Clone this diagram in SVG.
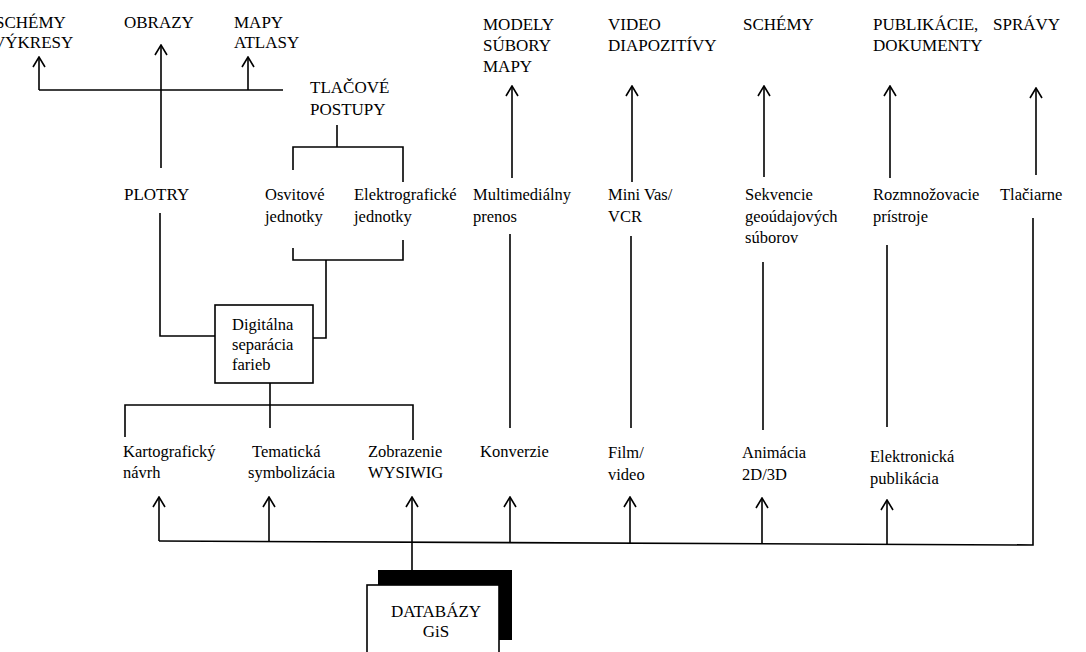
<svg xmlns="http://www.w3.org/2000/svg" width="1086" height="652" viewBox="0 0 1086 652">
<defs>
<style>
text{font-family:"Liberation Serif","Times New Roman",serif;fill:#000;}
.u{font-size:17px;}
.l{font-size:16.5px;}
.c{text-anchor:middle;}
.ln{stroke:#000;stroke-width:1.6;fill:none;}
.ar{stroke:#000;stroke-width:1.6;fill:none;marker-end:url(#ah);}
</style>
<marker id="ah" viewBox="0 0 12 14" refX="11" refY="7" markerWidth="12" markerHeight="14" markerUnits="userSpaceOnUse" orient="auto">
<path d="M1,1 L11,7 L1,13" fill="none" stroke="#000" stroke-width="1.6"/>
</marker>
</defs>
<rect width="1086" height="652" fill="#fff"/>

<g id="connectors">
<polyline class="ln" points="39,90 283,90"/>
<line class="ar" x1="39" y1="90" x2="39" y2="57"/>
<line class="ar" x1="161" y1="168" x2="161" y2="45"/>
<line class="ar" x1="248" y1="90" x2="248" y2="57"/>
<line class="ln" x1="337" y1="125" x2="337" y2="147"/>
<polyline class="ln" points="293,170 293,147 403,147 403,182"/>
<polyline class="ln" points="293,248 293,260 403,260 403,240"/>
<polyline class="ln" points="326,260 326,338 313,338"/>
<polyline class="ln" points="160,213 160,336 215,336"/>
<line class="ln" x1="270" y1="383" x2="270" y2="428"/>
<polyline class="ln" points="125,437 125,405 413,405 413,440"/>
<line class="ar" x1="512" y1="178" x2="512" y2="86"/>
<line class="ar" x1="632" y1="182" x2="632" y2="86"/>
<line class="ar" x1="764" y1="177" x2="764" y2="86"/>
<line class="ar" x1="890" y1="178" x2="890" y2="86"/>
<line class="ar" x1="1036" y1="175" x2="1036" y2="88"/>
<line class="ln" x1="510" y1="234" x2="510" y2="428"/>
<line class="ln" x1="631" y1="236" x2="631" y2="428"/>
<line class="ln" x1="763" y1="262" x2="763" y2="430"/>
<line class="ln" x1="887" y1="245" x2="887" y2="427"/>
<polyline class="ln" points="159,541 1033,545 1033,218"/>
<line class="ar" x1="159" y1="541" x2="159" y2="497"/>
<line class="ar" x1="269" y1="541" x2="269" y2="497"/>
<line class="ar" x1="412" y1="570" x2="412" y2="497"/>
<line class="ar" x1="510" y1="542" x2="510" y2="497"/>
<line class="ar" x1="630" y1="543" x2="630" y2="497"/>
<line class="ar" x1="762" y1="544" x2="762" y2="498"/>
<line class="ar" x1="887" y1="545" x2="887" y2="500"/>
</g>

<g id="n-schemy1"><text class="u" x="-5" y="28">SCHÉMY</text><text class="u" x="-7" y="48">VÝKRESY</text></g>
<g id="n-obrazy"><text class="u" x="124" y="28">OBRAZY</text></g>
<g id="n-mapy"><text class="u" x="234" y="28">MAPY</text><text class="u" x="234" y="48">ATLASY</text></g>
<g id="n-modely"><text class="u" x="483" y="30">MODELY</text><text class="u" x="483" y="51">SÚBORY</text><text class="u" x="483" y="72">MAPY</text></g>
<g id="n-video"><text class="u" x="608" y="30">VIDEO</text><text class="u" x="608" y="51">DIAPOZITÍVY</text></g>
<g id="n-schemy2"><text class="u" x="743" y="30">SCHÉMY</text></g>
<g id="n-publikacie"><text class="u" x="873" y="30">PUBLIKÁCIE,</text><text class="u" x="873" y="51">DOKUMENTY</text></g>
<g id="n-spravy"><text class="u" x="993" y="30">SPRÁVY</text></g>

<g id="n-tlacove"><text class="u" x="310" y="93">TLAČOVÉ</text><text class="u" x="310" y="115">POSTUPY</text></g>
<g id="n-plotry"><text class="u" x="124" y="200">PLOTRY</text></g>
<g id="n-osvitove"><text class="l" x="265" y="200">Osvitové</text><text class="l" x="265" y="222">jednotky</text></g>
<g id="n-elektro"><text class="l" x="354" y="200">Elektrografické</text><text class="l" x="354" y="222">jednotky</text></g>
<g id="n-multi"><text class="l" x="473" y="200">Multimediálny</text><text class="l" x="473" y="222">prenos</text></g>
<g id="n-minivas"><text class="l" x="608" y="200">Mini Vas/</text><text class="l" x="608" y="222">VCR</text></g>
<g id="n-sekvencie"><text class="l" x="745" y="200">Sekvencie</text><text class="l" x="745" y="222">geoúdajových</text><text class="l" x="745" y="243">súborov</text></g>
<g id="n-rozmnoz"><text class="l" x="873" y="200">Rozmnožovacie</text><text class="l" x="873" y="222">prístroje</text></g>
<g id="n-tlaciarne"><text class="l" x="1000" y="200">Tlačiarne</text></g>

<g id="n-digital">
<rect x="215" y="305" width="98" height="78" fill="#fff" stroke="#000" stroke-width="1.6"/>
<text class="l" x="232" y="330">Digitálna</text><text class="l" x="232" y="350">separácia</text><text class="l" x="232" y="370">farieb</text>
</g>

<g id="n-karto"><text class="l" x="123" y="457">Kartografický</text><text class="l" x="123" y="478">návrh</text></g>
<g id="n-tema"><text class="l" x="252" y="457">Tematická</text><text class="l" x="248" y="478">symbolizácia</text></g>
<g id="n-zobr"><text class="l" x="368" y="457">Zobrazenie</text><text class="l" x="368" y="478">WYSIWIG</text></g>
<g id="n-konv"><text class="l" x="480" y="457">Konverzie</text></g>
<g id="n-film"><text class="l" x="608" y="458">Film/</text><text class="l" x="608" y="480">video</text></g>
<g id="n-anim"><text class="l" x="742" y="458">Animácia</text><text class="l" x="742" y="480">2D/3D</text></g>
<g id="n-elpub"><text class="l" x="870" y="462">Elektronická</text><text class="l" x="870" y="484">publikácia</text></g>

<g id="n-databazy">
<rect x="378" y="570" width="134" height="70" fill="#000"/>
<rect x="367" y="585" width="132" height="80" fill="#fff" stroke="#000" stroke-width="1.6"/>
<text class="u c" x="436" y="617">DATABÁZY</text><text class="u c" x="436" y="637">GiS</text>
</g>
</svg>
